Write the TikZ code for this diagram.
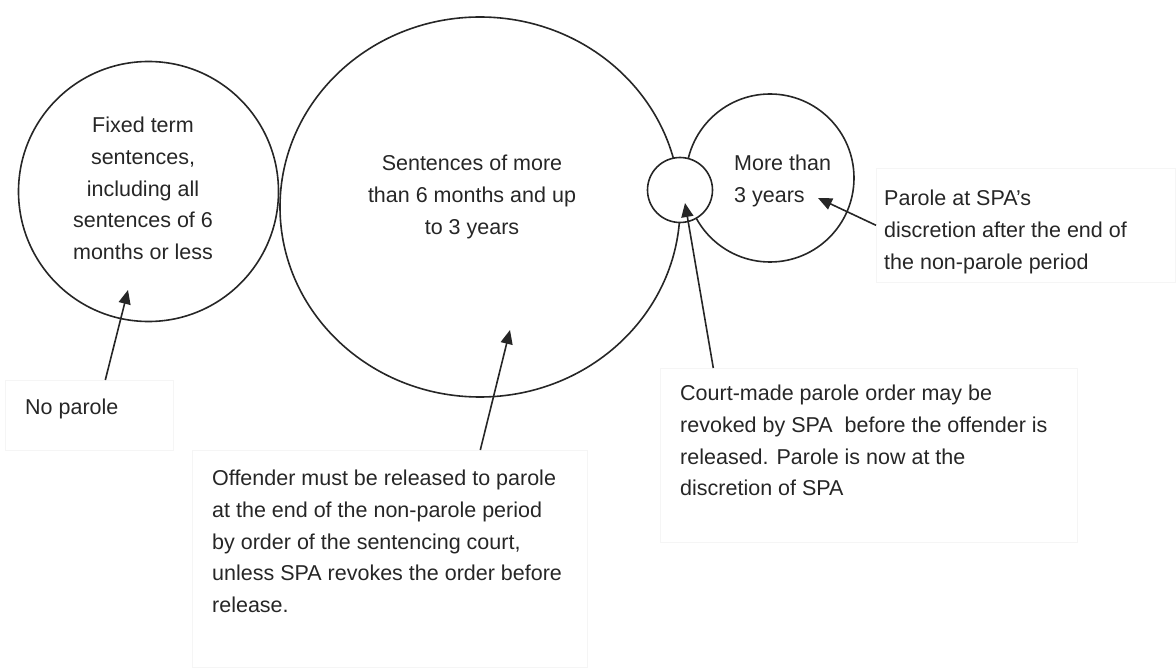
\documentclass[tikz,border=0pt]{standalone}
\usepackage{fontspec}
\setmainfont{Liberation Sans}
\usetikzlibrary{arrows.meta,shapes.geometric,calc}
\begin{document}
\begin{tikzpicture}[x=1pt,y=-1pt,
  ring/.style={draw=black!85, line width=1.6pt, inner sep=0pt},
  arr/.style={draw=black!85, line width=1.6pt, -{Triangle[length=14pt,width=12pt]}},
  lbl/.style={font=\fontsize{21.5}{31.7}\selectfont, text=black!85, inner sep=0pt},
  tbox/.style={draw=black!4, line width=0.6pt, rectangle, inner sep=0pt, anchor=north west}
]
\useasboundingbox (0,0) rectangle (1176,668);

% circles
\node[ring, circle, minimum size=260pt] (c1) at (148.5,191.5) {};
\node[ring, ellipse, minimum width=400pt, minimum height=380pt] (c2) at (480,207) {};
\node[ring, circle, minimum size=168pt] (c3) at (770,178) {};
\node[ring, circle, fill=white, minimum size=65pt] (c4) at (680,190) {};

% faint text boxes
\node[tbox, minimum width=168pt, minimum height=70pt] (b1) at (5,380) {};
\node[tbox, minimum width=395pt, minimum height=217pt] (b2) at (192,450) {};
\node[tbox, minimum width=417pt, minimum height=174pt] (b3) at (660,368) {};
\node[tbox, minimum width=299pt, minimum height=114pt] (b4) at (876,168) {};

% circle texts
\node[lbl, align=center, anchor=north] (tc1) at (143,117)
  {Fixed term\\sentences,\\including all\\sentences of 6\\months or less};
\node[lbl, align=center, anchor=north] (tc2) at (472,155)
  {Sentences of more\\than 6 months and up\\to 3 years};
\node[lbl, align=left, anchor=north west] (tc3) at (734,155)
  {More than\\3 years};

% box texts
\node[lbl, align=left, anchor=north west] (t1) at ($(b1.north west)+(20,19)$) {No parole};
\node[lbl, align=left, anchor=north west] (t2) at ($(b2.north west)+(20,20)$)
  {Offender must be released to parole\\at the end of the non-parole period\\by order of the sentencing court,\\unless SPA revokes the order before\\release.};
\node[lbl, align=left, anchor=north west] (t3) at ($(b3.north west)+(20,17)$)
  {Court-made parole order may be\\revoked by SPA\ \ before the offender is\\released. Parole is now at the\\discretion of SPA};
\node[lbl, align=left, anchor=north west] (t4) at ($(b4.north west)+(8,22)$)
  {Parole at SPA’s\\discretion after the end of\\the non-parole period};

% arrow tips
\coordinate (p1) at (128,290);
\coordinate (p2) at (510,330);
\coordinate (p3) at (685,203);
\coordinate (p4) at (818,198);

% connectors
\draw[arr] ([xshift=16pt]b1.north) -- (p1);
\draw[arr] ([xshift=90.5pt]b2.north) -- (p2);
\draw[arr] ([xshift=-155.5pt]b3.north) -- (p3);
\draw[arr] (b4.west) -- (p4);
\end{tikzpicture}
\end{document}
